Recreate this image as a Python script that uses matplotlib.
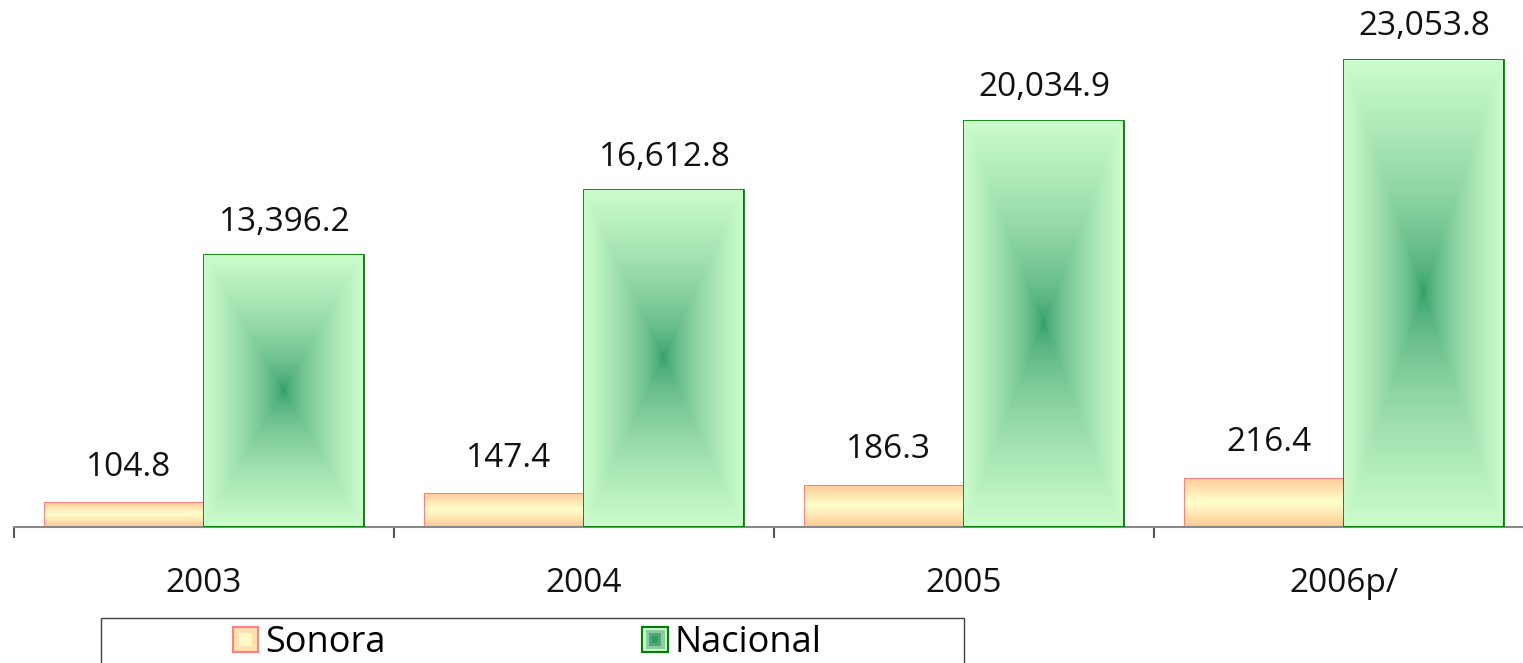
import numpy as np
import matplotlib.pyplot as plt
from matplotlib.patches import Rectangle
from matplotlib.legend_handler import HandlerBase
from matplotlib.colors import to_rgb

plt.rcParams['font.family'] = ['Open Sans', 'DejaVu Sans']

# datos
years = ['2003', '2004', '2005', '2006p/']
sonora = [104.8, 147.4, 186.3, 216.4]
nacional = [13396.2, 16612.8, 20034.9, 23053.8]

W, H = 1523, 663
fig = plt.figure(figsize=(W / 100, H / 100), dpi=100)
ax = fig.add_axes([14 / W, (H - 526.5) / H, 1520 / W, 506 / H])
ax2 = ax.twinx()
ax.set_zorder(ax2.get_zorder() + 1)
ax.patch.set_visible(False)

x = np.arange(len(years))
bw = 0.4176


def rect_gradient(ax, bar, dark, light, n=300):
    # degradado rectangular desde el centro
    u = np.linspace(-1, 1, n)
    uu, vv = np.meshgrid(u, u)
    t = np.maximum(np.abs(uu), np.abs(vv))[..., None] ** 0.6
    img = np.array(to_rgb(dark)) * (1 - t) + np.array(to_rgb(light)) * t
    x0, y0 = bar.get_x(), bar.get_y()
    im = ax.imshow(img, extent=[x0, x0 + bar.get_width(), y0, y0 + bar.get_height()],
                   aspect='auto', interpolation='bilinear', zorder=bar.get_zorder())
    im.set_clip_path(bar)


def band_gradient(ax, bar, edge_c, mid_c, n=200):
    # degradado horizontal: naranja arriba/abajo, amarillo al centro
    v = np.abs(np.linspace(-1, 1, n))[:, None, None]
    img = np.array(to_rgb(mid_c)) * (1 - v) + np.array(to_rgb(edge_c)) * v
    img = np.repeat(img, 2, axis=1)
    x0, y0 = bar.get_x(), bar.get_y()
    im = ax.imshow(img, extent=[x0, x0 + bar.get_width(), y0, y0 + bar.get_height()],
                   aspect='auto', interpolation='bilinear', zorder=bar.get_zorder())
    im.set_clip_path(bar)


bars_s = ax2.bar(x - bw / 2, sonora, bw, facecolor='none', edgecolor='#FF8080', lw=1.5, zorder=3)
bars_n = ax.bar(x + bw / 2, nacional, bw, facecolor='none', edgecolor='#008000', lw=2, zorder=3)

for b in bars_s:
    band_gradient(ax2, b, '#FFCC99', '#FFFFCC')
for b in bars_n:
    rect_gradient(ax, b, '#2E9A64', '#CCFCCC')

ax.set_xlim(-0.5, 3.5)
ax.set_ylim(0, 25000)
ax2.set_ylim(0, 2300)

for b, v in zip(bars_s, sonora):
    ax2.annotate(f'{v:,.1f}', (b.get_x() + b.get_width() / 2, b.get_height()),
                 xytext=(3, 14), textcoords='offset points', ha='center', va='bottom',
                 fontsize=24, color='#111111')
for b, v in zip(bars_n, nacional):
    ax.annotate(f'{v:,.1f}', (b.get_x() + b.get_width() / 2, b.get_height()),
                xytext=(1, 12), textcoords='offset points', ha='center', va='bottom',
                fontsize=24, color='#111111')

ax.set_xticks(x)
ax.set_xticklabels(years, fontsize=24, color='#111111')
ax.set_xticks(np.arange(-0.5, 4, 1), minor=True)
ax.tick_params(axis='x', which='major', length=0, pad=29)
ax.tick_params(axis='x', which='minor', length=8, width=1.5, color='#555555')
ax.set_yticks([])
ax2.set_yticks([])
for a in (ax, ax2):
    for s in ('top', 'left', 'right'):
        a.spines[s].set_visible(False)
ax2.spines['bottom'].set_visible(False)
ax.spines['bottom'].set_color('#888888')
ax.spines['bottom'].set_linewidth(1.5)


class SquareHandler(HandlerBase):
    def __init__(self, colors, edge):
        super().__init__()
        self.colors = colors
        self.edge = edge

    def create_artists(self, legend, orig_handle, xdescent, ydescent, width, height, fontsize, trans):
        arts = []
        n = len(self.colors)
        for i, c in enumerate(self.colors):
            f = 1 - i / n
            w, h = width * f, height * f
            r = Rectangle((-xdescent + (width - w) / 2, -ydescent + (height - h) / 2), w, h,
                          facecolor=c, edgecolor=self.edge if i == 0 else 'none',
                          lw=1.5, transform=trans)
            arts.append(r)
        return arts


h_s = Rectangle((0, 0), 1, 1)
h_n = Rectangle((0, 0), 1, 1)
leg = fig.legend([h_s, h_n], ['Sonora', 'Nacional'], ncol=2, frameon=False,
                 loc='center left', bbox_to_anchor=(233 / W, 1 - 643 / H),
                 bbox_transform=fig.transFigure, fontsize=26, borderpad=0,
                 borderaxespad=0, handlelength=0.7, handleheight=0.7, handletextpad=0.2,
                 columnspacing=7.1,
                 handler_map={h_s: SquareHandler(['#FFE0B0', '#FFF8C8'], '#FF8080'),
                              h_n: SquareHandler(['#C8F8C8', '#8CCB9F', '#4FA878', '#2E9A64'], '#008000')})
fig.patches.append(Rectangle((101 / W, -0.1), (964 - 101) / W, 0.1 + 1 - 618 / H,
                             transform=fig.transFigure, fill=False,
                             edgecolor='#404040', lw=1))

fig.savefig('out.png', dpi=100)
